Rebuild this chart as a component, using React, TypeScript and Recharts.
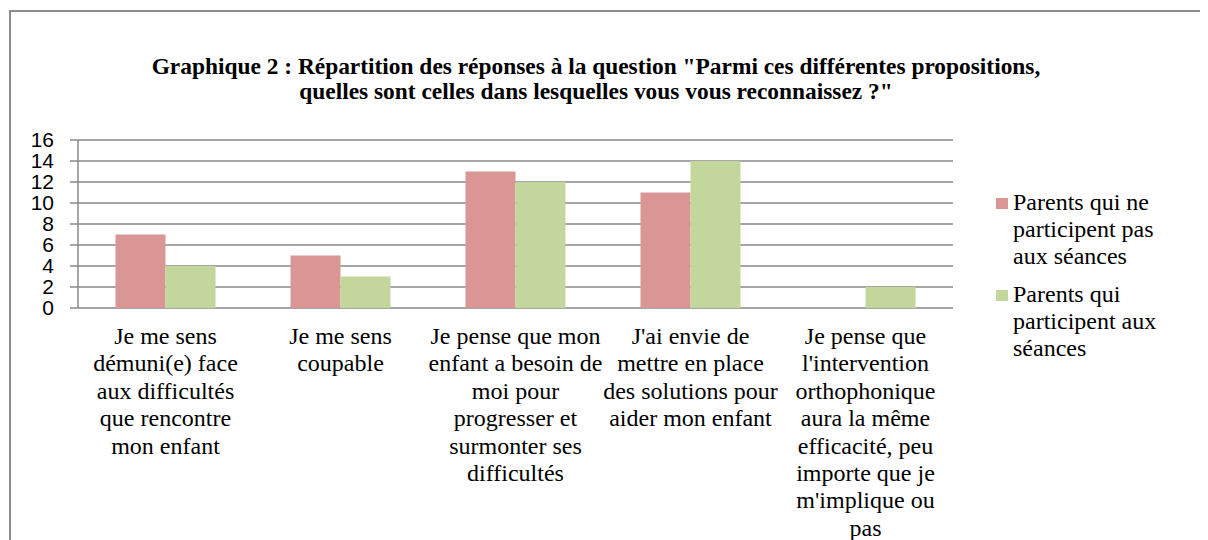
import React from "react";
import { BarChart, Bar, XAxis, YAxis, CartesianGrid, Legend } from "recharts";

const titleLines = [
  "Graphique 2 : Répartition des réponses à la question \"Parmi ces différentes propositions,",
  "quelles sont celles dans lesquelles vous vous reconnaissez ?\"",
];

const categories = [
  "Je me sens\ndémuni(e) face\naux difficultés\nque rencontre\nmon enfant",
  "Je me sens\ncoupable",
  "Je pense que mon\nenfant a besoin de\nmoi pour\nprogresser et\nsurmonter ses\ndifficultés",
  "J'ai envie de\nmettre en place\ndes solutions pour\naider mon enfant",
  "Je pense que\nl'intervention\northophonique\naura la même\nefficacité, peu\nimporte que je\nm'implique ou\npas",
];

const seriesNames = ["Parents qui ne participent pas aux séances", "Parents qui participent aux séances"];
const nonParticipants = [7, 5, 13, 11, 0];
const participants = [4, 3, 12, 14, 2];
const yTicks = [0, 2, 4, 6, 8, 10, 12, 14, 16];
const colors = ["#D99694", "#C3D69B"];

const data = categories.map((c, i) => ({
  cat: c,
  a: nonParticipants[i],
  b: participants[i],
}));
const edgeTicks = [...categories.map((_, i) => i), categories.length];

const SERIF = "Liberation Serif";
const SANS = "Liberation Sans";
const GRID = "#898989";

const CatTick = (props: any) => {
  const { x, y, payload } = props;
  const lines = String(payload.value).split("\n");
  return (
    <text x={x} y={y} textAnchor="middle" fontFamily={SERIF} fontSize={24} fill="#000">
      {lines.map((l, i) => (
        <tspan key={i} x={x} dy={i === 0 ? 36 : 27.4}>
          {l}
        </tspan>
      ))}
    </text>
  );
};

const LegendContent = () => (
  <div style={{ fontFamily: SERIF, fontSize: 24, lineHeight: "27px", color: "#000" }}>
    {seriesNames.map((n, i) => (
      <div key={n} style={{ display: "flex", alignItems: "flex-start", marginBottom: i === 0 ? 11 : 0 }}>
        <div style={{ width: 12, height: 11, background: colors[i], marginTop: 9, marginRight: 5, flexShrink: 0 }} />
        <div style={{ width: 160 }}>{n}</div>
      </div>
    ))}
  </div>
);

export default function App() {
  return (
    <div style={{ position: "relative", width: 1200, height: 532 }}>
      <div
        style={{
          position: "absolute",
          left: 1,
          top: 2,
          width: 1220,
          height: 560,
          border: "2px solid #8c8c8c",
          boxSizing: "border-box",
        }}
      />
      <div
        style={{
          position: "absolute",
          left: 0,
          top: 46,
          width: 1176,
          textAlign: "center",
          fontFamily: SERIF,
          fontWeight: "bold",
          fontSize: 23.4,
          lineHeight: "25px",
          color: "#000",
        }}
      >
        {titleLines.map((t) => (
          <div key={t}>{t}</div>
        ))}
      </div>
      <div style={{ position: "absolute", left: 0, top: 0 }}>
        <BarChart
          width={1200}
          height={532}
          data={data}
          margin={{ top: 132, right: 255, bottom: 0, left: 0 }}
          barCategoryGap="21.43%"
          barGap={0}
        >
          <CartesianGrid horizontal vertical={false} stroke={GRID} strokeWidth={1.5} />
          <XAxis
            xAxisId="edges"
            type="number"
            domain={[0, categories.length]}
            ticks={edgeTicks}
            tick={false}
            height={0}
            tickSize={8}
            stroke={GRID}
            strokeWidth={1.5}
            allowDataOverflow
          />
          <XAxis
            dataKey="cat"
            height={232}
            axisLine={false}
            tickLine={false}
            tickSize={0}
            tickMargin={0}
            interval={0}
            tick={<CatTick />}
          />
          <YAxis
            width={70}
            domain={[0, 16]}
            ticks={yTicks}
            interval={0}
            tickSize={8}
            tickMargin={16}
            stroke={GRID}
            strokeWidth={1.5}
            tick={{ fontFamily: SANS, fontSize: 21, fill: "#000" }}
          />
          <Legend
            layout="vertical"
            align="center"
            verticalAlign="middle"
            wrapperStyle={{ left: 988, top: 181, width: 190 }}
            content={<LegendContent />}
          />
          <Bar dataKey="a" name={seriesNames[0]} fill={colors[0]} isAnimationActive={false} />
          <Bar dataKey="b" name={seriesNames[1]} fill={colors[1]} isAnimationActive={false} />
        </BarChart>
      </div>
    </div>
  );
}
